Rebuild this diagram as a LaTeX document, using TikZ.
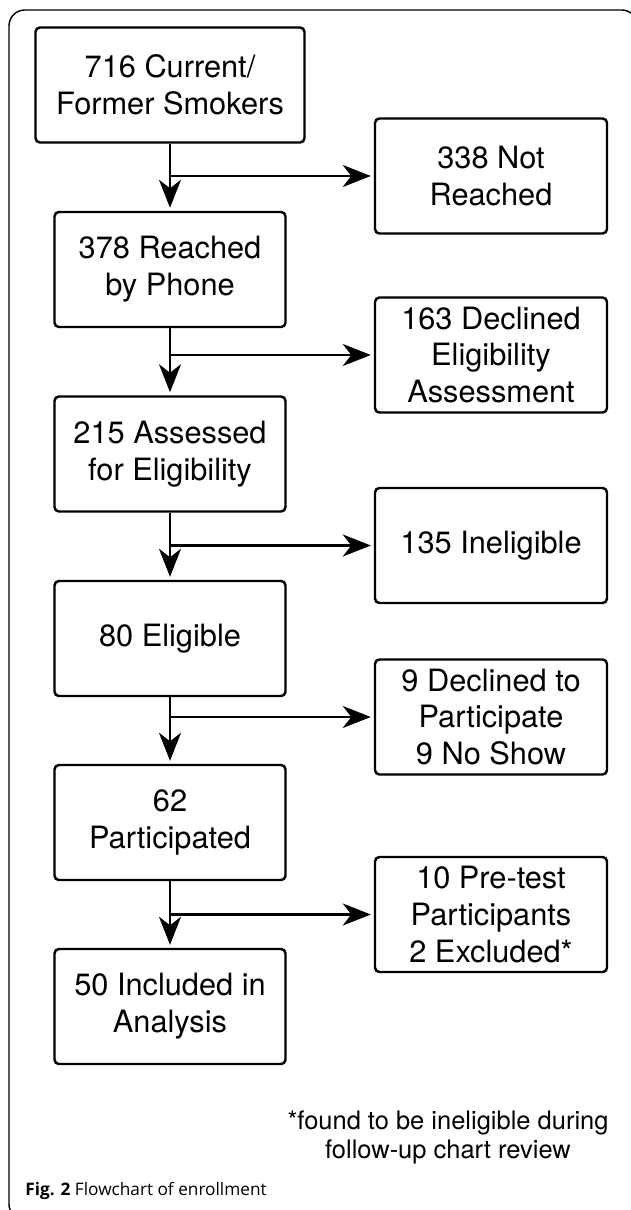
\documentclass[tikz,border=0pt]{standalone}
\usepackage{fontspec}
\setmainfont{TeX Gyre Heros}
\newfontfamily\capfont{Open Sans}
\usetikzlibrary{arrows.meta}
\tikzset{
  stage/.style={draw, line width=1.4pt, rounded corners=2.5pt, minimum width=4.62cm,
    minimum height=2.3cm, align=center, inner sep=2pt, font=\fontsize{17.5}{21}\selectfont},
  outbox/.style={stage, minimum width=4.64cm},
  flow/.style={line width=1.3pt, shorten >=0.06cm,
    -{Stealth[length=0.56cm, width=0.44cm, inset=0.17cm]}}
}
\begin{document}
\begin{tikzpicture}
\useasboundingbox (0,0) rectangle (12.6,-24.2);
% outer frame
\draw[line width=0.8pt, rounded corners=9pt] (0.18,-0.2) rectangle (12.75,-24.4);
% main column
\node[stage, minimum width=5.38cm] (smokers) at (3.4,-1.7) {716 Current/\\Former Smokers};
\node[stage] (reached) at (3.4,-5.39) {378 Reached\\by Phone};
\node[stage] (assessed) at (3.4,-9.08) {215 Assessed\\for Eligibility};
\node[stage] (eligible) at (3.4,-12.77) {80 Eligible};
\node[stage] (participated) at (3.4,-16.45) {62\\Participated};
\node[stage] (included) at (3.4,-20.13) {50 Included in\\Analysis};
% drop-outs
\node[outbox] (notreached) at (9.82,-3.52) {338 Not\\Reached};
\node[outbox] (declined) at (9.82,-7.1) {163 Declined\\Eligibility\\Assessment};
\node[outbox] (ineligible) at (9.82,-10.91) {135 Ineligible};
\node[outbox] (noshow) at (9.82,-14.34) {9 Declined to\\Participate\\9 No Show};
\node[outbox] (pretest) at (9.82,-18.29) {10 Pre-test\\Participants\\2 Excluded*};
% arrows
\foreach \a/\b/\c in {smokers/reached/notreached, reached/assessed/declined,
    assessed/eligible/ineligible, eligible/participated/noshow,
    participated/included/pretest} {
  \draw[flow] (\a) -- (\b);
  \draw[flow] (\a.south |- \c) -- (\c);
}
% footnote
\node[align=center, font=\fontsize{14.5}{16.5}\selectfont] (note) at (8.96,-22.75)
  {*found to be ineligible during\\follow-up chart review};
% caption
\node[anchor=west, inner sep=0pt, font=\capfont\fontsize{9.8}{12}\selectfont] (caption)
  at (0.5,-23.82) {\textbf{Fig. 2} Flowchart of enrollment};
\end{tikzpicture}
\end{document}
